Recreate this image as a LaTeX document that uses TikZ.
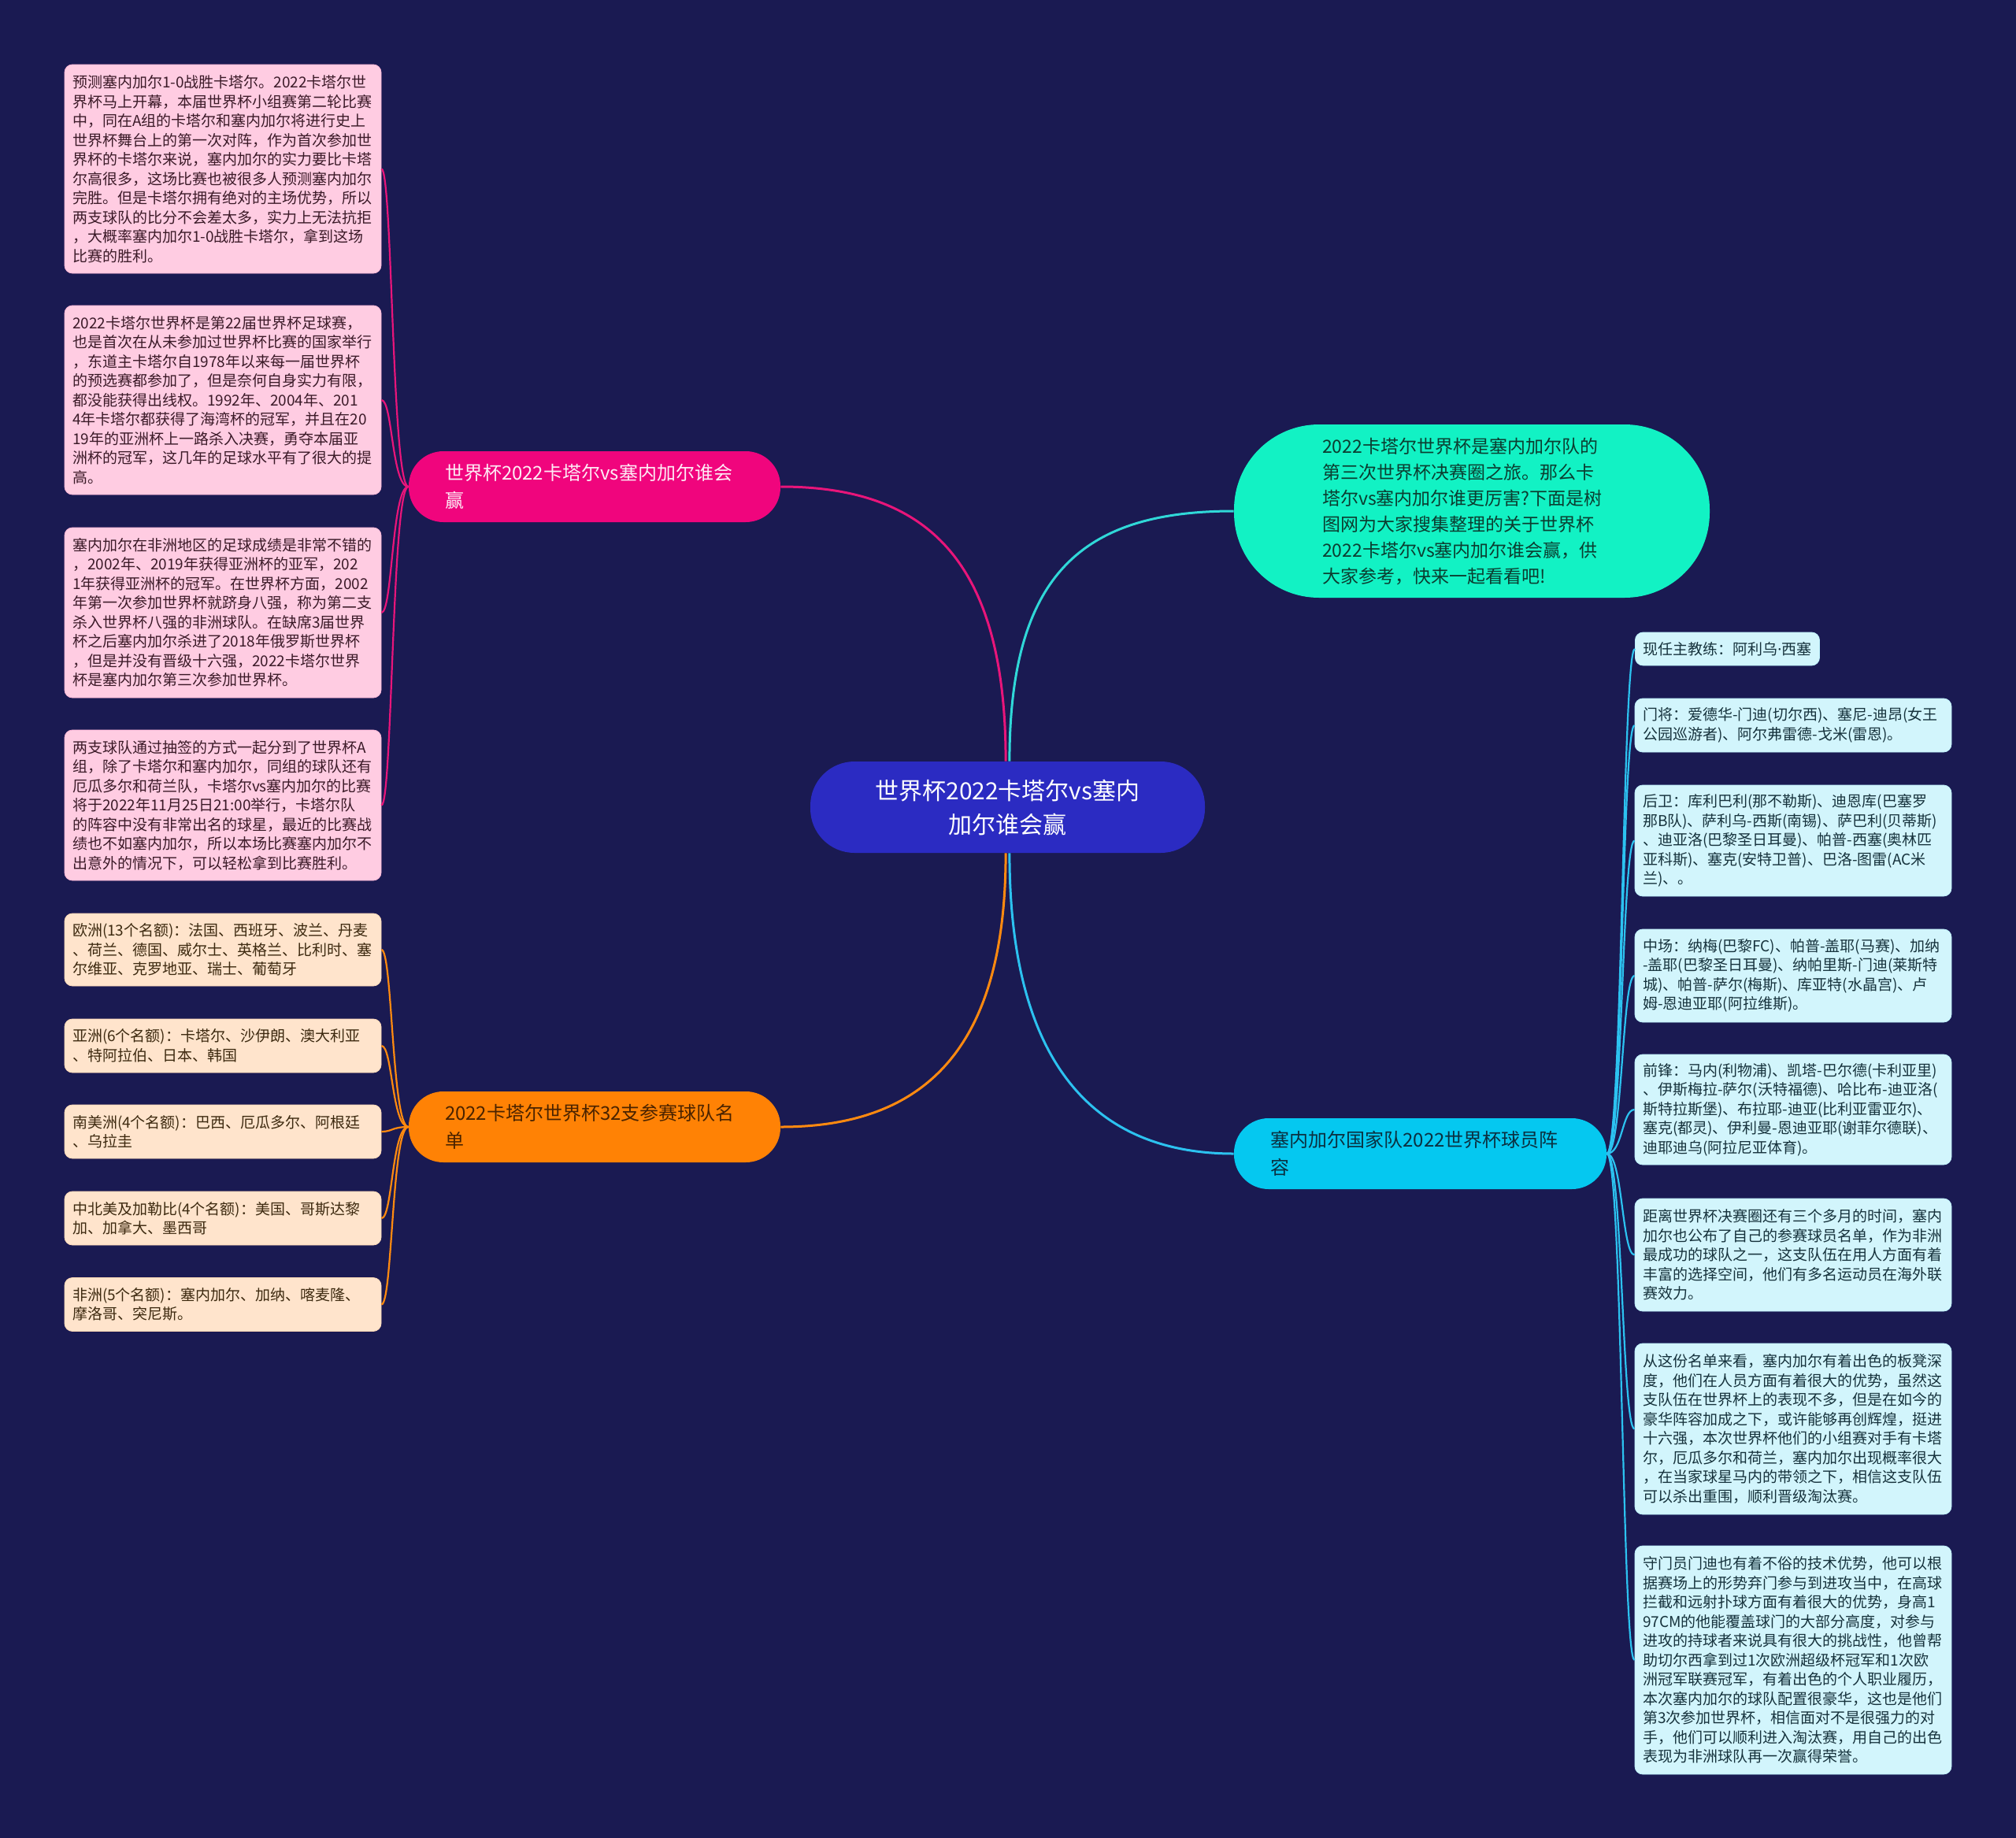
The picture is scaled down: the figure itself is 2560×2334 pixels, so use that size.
\documentclass[tikz,border=0pt]{standalone}
\usepackage{fontspec}
\setmainfont{Noto Sans CJK SC}
\newfontfamily\latinfam{Noto Sans}
\usetikzlibrary{calc}
\definecolor{bg}{HTML}{1A1A52}
\definecolor{centerc}{HTML}{2B2BC2}
\definecolor{pinkc}{HTML}{F0057D}
\definecolor{orangec}{HTML}{FF8205}
\definecolor{tealc}{HTML}{12F2C4}
\definecolor{cyanc}{HTML}{05C8F0}
\definecolor{pinkline}{HTML}{E8157A}
\definecolor{orangeline}{HTML}{FF8A10}
\definecolor{tealline}{HTML}{30D8D8}
\definecolor{cyanline}{HTML}{2CC2F0}
\definecolor{pinkleafc}{HTML}{FFCCE2}
\definecolor{orangeleafc}{HTML}{FFE4CC}
\definecolor{cyanleafc}{HTML}{D2F5FC}
\definecolor{pinktxt}{HTML}{3B1A28}
\definecolor{orangetxt}{HTML}{3D2A10}
\definecolor{cyantxt}{HTML}{16323C}
\definecolor{orangebrtxt}{HTML}{4A2300}
\definecolor{tealtxt}{HTML}{0B3D30}
\definecolor{cyanbrtxt}{HTML}{0B3040}
\begin{document}
\begin{tikzpicture}[x=0.5pt,y=-0.5pt,
  leafbase/.style={rectangle, rounded corners=5pt, inner xsep=5pt, inner ysep=0pt,
    align=left, font=\fontsize{9.5pt}{12.25pt}\selectfont},
  leafw/.style={leafbase, text width=191pt},
  pinkleaf/.style={leafw, fill=pinkleafc, draw=pinkleafc!90!pinkc, line width=0.4pt, text=pinktxt},
  orangeleaf/.style={leafw, fill=orangeleafc, draw=orangeleafc!90!orangec, line width=0.4pt, text=orangetxt},
  cyanleaf/.style={leafw, fill=cyanleafc, draw=cyanleafc!90!cyanc, line width=0.4pt, text=cyantxt},
  branch/.style={rectangle, rounded corners=22pt, inner xsep=0pt, inner ysep=0pt,
    text width=190pt, align=left, minimum width=236pt, minimum height=45pt,
    font=\fontsize{12pt}{17.5pt}\selectfont},
  conn/.style={line width=1.5pt},
  leafconn/.style={line width=1.1pt}
]
\fill[bg] (0,0) rectangle (2560,2334);
\useasboundingbox (0,0) rectangle (2560,2334);

% central
\node[rectangle, rounded corners=28pt, fill=centerc, text=white, align=center,
  minimum width=250.5pt, minimum height=58pt, inner sep=0pt,
  font=\fontsize{15pt}{21.5pt}\selectfont] (c) at (1279.5,1025)
  {世界杯2022卡塔尔vs塞内\\加尔谁会赢};

% branches
\node[branch, fill=pinkc, text=white!92!pinkc] (pb) at (755,618)
  {世界杯2022卡塔尔vs塞内加尔谁会\\赢};
\node[branch, fill=orangec, text=orangebrtxt] (ob) at (755,1431)
  {2022卡塔尔世界杯32支参赛球队名\\单};
\node[branch, fill=cyanc, text=cyanbrtxt, minimum width=236.5pt] (cb) at (1803.5,1465)
  {塞内加尔国家队2022世界杯球员阵\\容};
\node[rectangle, rounded corners=54pt, fill=tealc, text=tealtxt, inner sep=0pt,
  text width=190pt, align=left, minimum width=302pt, minimum height=110pt,
  font=\fontsize{11.5pt}{16.5pt}\selectfont] (tb) at (1869,649)
  {2022卡塔尔世界杯是塞内加尔队的\\
   第三次世界杯决赛圈之旅。那么卡\\
   塔尔vs塞内加尔谁更厉害?下面是树\\
   图网为大家搜集整理的关于世界杯\\
   2022卡塔尔vs塞内加尔谁会赢，供\\
   大家参考，快来一起看看吧!};

% pink leaves
\node[pinkleaf, minimum height=132.5pt] (l1) at (283,214.5)
  {预测塞内加尔1-0战胜卡塔尔。2022卡塔尔世\\
   界杯马上开幕，本届世界杯小组赛第二轮比赛\\
   中，同在A组的卡塔尔和塞内加尔将进行史上\\
   世界杯舞台上的第一次对阵，作为首次参加世\\
   界杯的卡塔尔来说，塞内加尔的实力要比卡塔\\
   尔高很多，这场比赛也被很多人预测塞内加尔\\
   完胜。但是卡塔尔拥有绝对的主场优势，所以\\
   两支球队的比分不会差太多，实力上无法抗拒\\
   ，大概率塞内加尔1-0战胜卡塔尔，拿到这场\\
   比赛的胜利。};
\node[pinkleaf, minimum height=120pt] (l2) at (283,508)
  {2022卡塔尔世界杯是第22届世界杯足球赛，\\
   也是首次在从未参加过世界杯比赛的国家举行\\
   ，东道主卡塔尔自1978年以来每一届世界杯\\
   的预选赛都参加了，但是奈何自身实力有限，\\
   都没能获得出线权。1992年、2004年、201\\
   4年卡塔尔都获得了海湾杯的冠军，并且在20\\
   19年的亚洲杯上一路杀入决赛，勇夺本届亚\\
   洲杯的冠军，这几年的足球水平有了很大的提\\
   高。};
\node[pinkleaf, minimum height=108pt] (l3) at (283,778)
  {塞内加尔在非洲地区的足球成绩是非常不错的\\
   ，2002年、2019年获得亚洲杯的亚军，202\\
   1年获得亚洲杯的冠军。在世界杯方面，2002\\
   年第一次参加世界杯就跻身八强，称为第二支\\
   杀入世界杯八强的非洲球队。在缺席3届世界\\
   杯之后塞内加尔杀进了2018年俄罗斯世界杯\\
   ，但是并没有晋级十六强，2022卡塔尔世界\\
   杯是塞内加尔第三次参加世界杯。};
\node[pinkleaf, minimum height=95.5pt] (l4) at (283,1022.5)
  {两支球队通过抽签的方式一起分到了世界杯A\\
   组，除了卡塔尔和塞内加尔，同组的球队还有\\
   厄瓜多尔和荷兰队，卡塔尔vs塞内加尔的比赛\\
   将于2022年11月25日21:00举行，卡塔尔队\\
   的阵容中没有非常出名的球星，最近的比赛战\\
   绩也不如塞内加尔，所以本场比赛塞内加尔不\\
   出意外的情况下，可以轻松拿到比赛胜利。};

% orange leaves
\node[orangeleaf, minimum height=46pt] (o1) at (283,1206)
  {欧洲(13个名额)：法国、西班牙、波兰、丹麦\\
   、荷兰、德国、威尔士、英格兰、比利时、塞\\
   尔维亚、克罗地亚、瑞士、葡萄牙};
\node[orangeleaf, minimum height=34pt] (o2) at (283,1328)
  {亚洲(6个名额)：卡塔尔、沙伊朗、澳大利亚\\
   、特阿拉伯、日本、韩国};
\node[orangeleaf, minimum height=34pt] (o3) at (283,1437)
  {南美洲(4个名额)：巴西、厄瓜多尔、阿根廷\\
   、乌拉圭};
\node[orangeleaf, minimum height=34pt] (o4) at (283,1547)
  {中北美及加勒比(4个名额)：美国、哥斯达黎\\
   加、加拿大、墨西哥};
\node[orangeleaf, minimum height=34pt] (o5) at (283,1656.5)
  {非洲(5个名额)：塞内加尔、加纳、喀麦隆、\\
   摩洛哥、突尼斯。};

% cyan leaves
\node[leafbase, fill=cyanleafc, draw=cyanleafc!90!cyanc, line width=0.4pt, text=cyantxt,
  minimum height=21pt, anchor=west] (r1) at (2076,824)
  {现任主教练：阿利乌{\latinfam ·}西塞};
\node[cyanleaf, minimum height=34pt] (r2) at (2277,921)
  {门将：爱德华-门迪(切尔西)、塞尼-迪昂(女王\\
   公园巡游者)、阿尔弗雷德-戈米(雷恩)。};
\node[cyanleaf, minimum height=70.5pt] (r3) at (2277,1067.5)
  {后卫：库利巴利(那不勒斯)、迪恩库(巴塞罗\\
   那B队)、萨利乌-西斯(南锡)、萨巴利(贝蒂斯)\\
   、迪亚洛(巴黎圣日耳曼)、帕普-西塞(奥林匹\\
   亚科斯)、塞克(安特卫普)、巴洛-图雷(AC米\\
   兰)、。};
\node[cyanleaf, minimum height=59pt] (r4) at (2277,1239)
  {中场：纳梅(巴黎FC)、帕普-盖耶(马赛)、加纳\\
   -盖耶(巴黎圣日耳曼)、纳帕里斯-门迪(莱斯特\\
   城)、帕普-萨尔(梅斯)、库亚特(水晶宫)、卢\\
   姆-恩迪亚耶(阿拉维斯)。};
\node[cyanleaf, minimum height=70pt] (r5) at (2277,1409)
  {前锋：马内(利物浦)、凯塔-巴尔德(卡利亚里)\\
   、伊斯梅拉-萨尔(沃特福德)、哈比布-迪亚洛(\\
   斯特拉斯堡)、布拉耶-迪亚(比利亚雷亚尔)、\\
   塞克(都灵)、伊利曼-恩迪亚耶(谢菲尔德联)、\\
   迪耶迪乌(阿拉尼亚体育)。};
\node[cyanleaf, minimum height=71.5pt] (r6) at (2277,1593.5)
  {距离世界杯决赛圈还有三个多月的时间，塞内\\
   加尔也公布了自己的参赛球员名单，作为非洲\\
   最成功的球队之一，这支队伍在用人方面有着\\
   丰富的选择空间，他们有多名运动员在海外联\\
   赛效力。};
\node[cyanleaf, minimum height=108.5pt] (r7) at (2277,1814.5)
  {从这份名单来看，塞内加尔有着出色的板凳深\\
   度，他们在人员方面有着很大的优势，虽然这\\
   支队伍在世界杯上的表现不多，但是在如今的\\
   豪华阵容加成之下，或许能够再创辉煌，挺进\\
   十六强，本次世界杯他们的小组赛对手有卡塔\\
   尔，厄瓜多尔和荷兰，塞内加尔出现概率很大\\
   ，在当家球星马内的带领之下，相信这支队伍\\
   可以杀出重围，顺利晋级淘汰赛。};
\node[cyanleaf, minimum height=145pt] (r8) at (2277,2108)
  {守门员门迪也有着不俗的技术优势，他可以根\\
   据赛场上的形势弃门参与到进攻当中，在高球\\
   拦截和远射扑球方面有着很大的优势，身高1\\
   97CM的他能覆盖球门的大部分高度，对参与\\
   进攻的持球者来说具有很大的挑战性，他曾帮\\
   助切尔西拿到过1次欧洲超级杯冠军和1次欧\\
   洲冠军联赛冠军，有着出色的个人职业履历，\\
   本次塞内加尔的球队配置很豪华，这也是他们\\
   第3次参加世界杯，相信面对不是很强力的对\\
   手，他们可以顺利进入淘汰赛，用自己的出色\\
   表现为非洲球队再一次赢得荣誉。};

% main connectors
\draw[conn, pinkline] ([xshift=-1.2pt]c.north) .. controls +(0,-250) and +(190,0) .. (pb.east);
\draw[conn, tealline] ([xshift=1.2pt]c.north) .. controls +(0,-240) and +(-190,0) .. (tb.west);
\draw[conn, orangeline] ([xshift=-1.2pt]c.south) .. controls +(0,240) and +(190,0) .. (ob.east);
\draw[conn, cyanline] ([xshift=1.2pt]c.south) .. controls +(0,250) and +(-190,0) .. (cb.west);

% leaf connectors
\foreach \n in {l1,l2,l3,l4}
  \draw[leafconn, pinkline] (pb.west) .. controls +(-21,0) and +(14,0) .. (\n.east);
\foreach \n in {o1,o2,o3,o4,o5}
  \draw[leafconn, orangeline] (ob.west) .. controls +(-21,0) and +(14,0) .. (\n.east);
\foreach \n in {r1,r2,r3,r4,r5,r6,r7,r8}
  \draw[leafconn, cyanline] (cb.east) .. controls +(20,0) and +(-16,0) .. (\n.west);
\end{tikzpicture}
\end{document}
